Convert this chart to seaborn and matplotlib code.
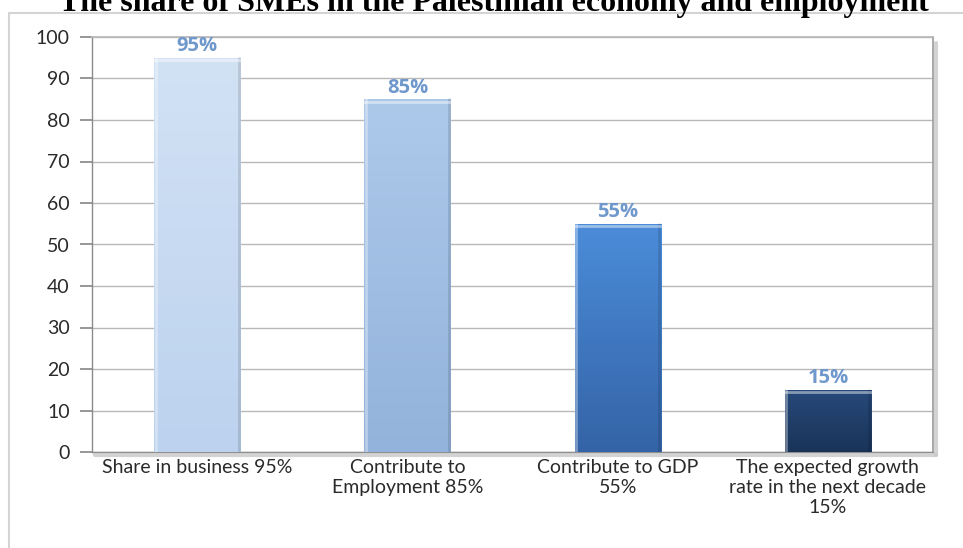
import matplotlib
matplotlib.use("Agg")
import matplotlib.pyplot as plt
import seaborn as sns
import pandas as pd
import numpy as np
from matplotlib.patches import Rectangle
from matplotlib.lines import Line2D
from matplotlib.colors import LinearSegmentedColormap

categories = ["Share in business 95%",
              "Contribute to\nEmployment 85%",
              "Contribute to GDP\n55%",
              "The expected growth\nrate in the next decade\n15%"]
values = [95, 85, 55, 15]
value_labels = ["95%", "85%", "55%", "15%"]
bar_colors = ["#c6d9f1", "#a0bfe4", "#3f7bca", "#1f3e68"]
bar_top_colors = ["#d2e2f5", "#adc9ea", "#4b8cd9", "#27497a"]
bar_bottom_colors = ["#bcd2ee", "#93b3dc", "#3464a7", "#1a3459"]
yticks = [0, 10, 20, 30, 40, 50, 60, 70, 80, 90, 100]
title = "The share of SMEs in the Palestinian economy and employment"

sns.set_theme(style="white")
plt.rcParams['font.family'] = ['Lato', 'DejaVu Sans']

df = pd.DataFrame({"cat": categories, "val": values})

fig = plt.figure(figsize=(9.63, 5.48), dpi=100)
ax = fig.add_axes([92/963, 1-452/548, (933-92)/963, (452-37)/548])

sns.barplot(data=df, x="cat", y="val", hue="cat", palette=bar_colors,
            width=0.41, legend=False, ax=ax, saturation=1,
            edgecolor="#8090a8", linewidth=0.6, zorder=3)

ax.set_ylim(0, 100)
ax.set_xlim(-0.5, 3.5)

# vertical gradient inside each bar
for patch, ct, cb in zip(ax.patches, bar_top_colors, bar_bottom_colors):
    x, y = patch.get_x(), patch.get_y()
    w, h = patch.get_width(), patch.get_height()
    cmap = LinearSegmentedColormap.from_list("g", [cb, ct])
    grad = np.linspace(0, 1, 64).reshape(-1, 1)
    im = ax.imshow(grad, extent=[x, x + w, y, y + h], origin="lower",
                   cmap=cmap, aspect="auto", zorder=3.1)
    im.set_clip_path(patch)
    # bevel edges
    ax.plot([x + w * 0.02, x + w * 0.02], [y, y + h], color="white", alpha=0.35, lw=2, zorder=3.2)
    ax.plot([x + w * 0.98, x + w * 0.98], [y, y + h], color="black", alpha=0.12, lw=2, zorder=3.2)
    ax.plot([x, x + w], [y + h - 0.6, y + h - 0.6], color="white", alpha=0.45, lw=2, zorder=3.2)

ax.set_xlim(-0.5, 3.5)
ax.set_ylim(0, 100)
ax.set_yticks(yticks)
ax.set_yticklabels([str(t) for t in yticks], fontsize=14, color="#2a2a2a")
ax.yaxis.grid(True, color="#b8b8b8", linewidth=1.0, zorder=0)
ax.set_axisbelow(True)
ax.set_xlabel("")
ax.set_ylabel("")
ax.set_xticks(range(len(categories)))
ax.set_xticklabels(categories, fontsize=14, color="#2a2a2a", linespacing=1.22)
ax.tick_params(axis="x", which="major", length=0, pad=5)
ax.set_xticks([-0.5, 0.5, 1.5, 2.5, 3.5], minor=True)
ax.tick_params(axis="x", which="minor", length=5, color="#8a8a8a", direction="out")
ax.tick_params(axis="y", length=9, color="#8a8a8a", direction="out", left=True, pad=7)

for s in ["left", "bottom"]:
    ax.spines[s].set_color("#8a8a8a")
    ax.spines[s].set_linewidth(1.0)
ax.spines["top"].set_color("#b8b8b8")
ax.spines["right"].set_color("#9a9a9a")
ax.spines["right"].set_linewidth(1.2)

# value labels
for i, (v, lab) in enumerate(zip(values, value_labels)):
    ax.text(i, v + 0.4, lab, ha="center", va="bottom", fontsize=14.5,
            fontweight="bold", color="#6f98cc", family=["Open Sans", "DejaVu Sans"])

# shadow along right and bottom of plot area
x0, x1 = 92/963, 933/963
y0, y1 = 1-452/548, 1-37/548
fig.add_artist(Line2D([x1 + 3/963, x1 + 3/963], [y0 - 3/548, y1 - 6/548],
                      transform=fig.transFigure, color="#c8c8c8", lw=3, alpha=0.8))
fig.add_artist(Line2D([x0 + 3/963, x1 + 3/963], [y0 - 3/548, y0 - 3/548],
                      transform=fig.transFigure, color="#c8c8c8", lw=3, alpha=0.8))

# outer chart frame
fig.add_artist(Rectangle((9/963, -0.05), 1.0, (548-13)/548 + 0.05,
                         transform=fig.transFigure, fill=False,
                         edgecolor="#d4d4d4", linewidth=1.5))

fig.text(494/963, 1-11/548, title, ha="center", va="baseline", fontsize=23,
         fontweight="bold", family=["Liberation Serif", "DejaVu Serif"], color="#000000")

fig.savefig("out.png", dpi=100)
